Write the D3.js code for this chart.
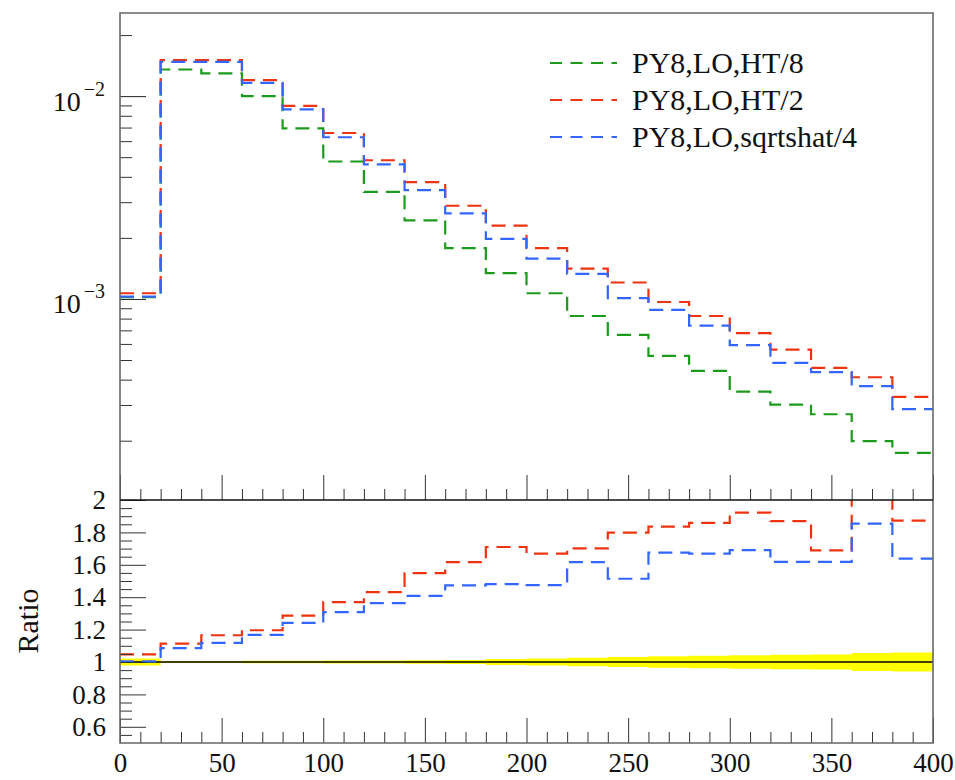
<!DOCTYPE html>
<html>
<head>
<meta charset="utf-8">
<script src="https://cdn.jsdelivr.net/npm/d3@7"></script>
<style>
  body { margin: 0; background: #fff; }
  svg { display: block; font-family: "Liberation Serif", "DejaVu Serif", serif; }
</style>
</head>
<body>
<svg width="955" height="780"></svg>
<script>
// bins of 20 GeV, lower edges
var binLow = [0, 20, 40, 60, 80, 100, 120, 140, 160, 180, 200, 220, 240, 260, 280, 300, 320, 340, 360, 380];
var binHigh = 400;

var seriesNames = ['PY8,LO,HT/8', 'PY8,LO,HT/2', 'PY8,LO,sqrtshat/4'];
var seriesColors = ['#1c9a1c', '#ee3311', '#3366ff'];

var ht8 = [1.02e-3, 0.01353, 0.01294, 0.0100, 6.93e-3, 4.76e-3, 3.37e-3, 2.44e-3, 1.78e-3, 1.34e-3,
  1.067e-3, 8.24e-4, 6.65e-4, 5.24e-4, 4.42e-4, 3.49e-4, 3.01e-4, 2.70e-4, 1.99e-4, 1.74e-4];
var ht2 = [1.067e-3, 0.01504, 0.01504, 0.01199, 8.95e-3, 6.58e-3, 4.83e-3, 3.77e-3, 2.88e-3, 2.30e-3,
  1.78e-3, 1.41e-3, 1.205e-3, 9.66e-4, 8.24e-4, 6.78e-4, 5.62e-4, 4.57e-4, 4.11e-4, 3.29e-4];
var sqrts4 = [1.026e-3, 0.01475, 0.01475, 0.01163, 8.60e-3, 6.27e-3, 4.61e-3, 3.44e-3, 2.64e-3, 1.98e-3,
  1.58e-3, 1.33e-3, 1.009e-3, 8.83e-4, 7.39e-4, 5.92e-4, 4.84e-4, 4.36e-4, 3.72e-4, 2.86e-4];

// ratios to PY8,LO,HT/8
var ratioHt2 = [1.047, 1.114, 1.165, 1.196, 1.286, 1.369, 1.431, 1.549, 1.616, 1.710,
  1.669, 1.702, 1.799, 1.836, 1.859, 1.922, 1.869, 1.689, 2.07, 1.873];
var ratioSqrts4 = [1.004, 1.086, 1.118, 1.167, 1.241, 1.308, 1.363, 1.408, 1.473, 1.481,
  1.475, 1.616, 1.514, 1.675, 1.669, 1.691, 1.618, 1.618, 1.854, 1.638];
// half width of the reference uncertainty band
var bandHalf = [0.021, 0.006, 0.006, 0.007, 0.008, 0.009, 0.010, 0.011, 0.013, 0.019,
  0.022, 0.027, 0.031, 0.035, 0.038, 0.042, 0.045, 0.047, 0.055, 0.059];

var xTicksMajor = [0, 50, 100, 150, 200, 250, 300, 350, 400];
var ratioTicksMajor = [0.6, 0.8, 1, 1.2, 1.4, 1.6, 1.8, 2];

var left = 120, right = 933;
var topY = 13, midY = 500, botY = 743;
var fontFam = '"Liberation Serif", "DejaVu Serif", serif';

var svg = d3.select('svg');

var x = d3.scaleLinear().domain([0, 400]).range([left, right]);
var yTop = d3.scaleLog().domain([1.02e-4, 0.0257]).range([midY, topY]);
var yRat = d3.scaleLinear().domain([0.5, 2]).range([botY, midY]);

var defs = svg.append('defs');
defs.append('clipPath').attr('id', 'clipTop').append('rect')
  .attr('x', left).attr('y', topY).attr('width', right - left).attr('height', midY - topY);
defs.append('clipPath').attr('id', 'clipRat').append('rect')
  .attr('x', left).attr('y', midY).attr('width', right - left).attr('height', botY - midY);

function stepPoints(vals) {
  var pts = binLow.map(function(b, i) { return [b, vals[i]]; });
  pts.push([binHigh, vals[vals.length - 1]]);
  return pts;
}

// ---------- top panel ----------
var lineTop = d3.line()
  .x(function(d) { return x(d[0]); })
  .y(function(d) { return yTop(d[1]); })
  .curve(d3.curveStepAfter);

var gTop = svg.append('g').attr('clip-path', 'url(#clipTop)');
[ht8, ht2, sqrts4].forEach(function(vals, i) {
  gTop.append('path')
    .attr('d', lineTop(stepPoints(vals)))
    .attr('fill', 'none')
    .attr('stroke', seriesColors[i])
    .attr('stroke-width', 2.2)
    .attr('stroke-dasharray', '14,8');
});

// y axis (log) major + minor
var minorLog = [];
[1e-4, 1e-3, 1e-2].forEach(function(dec) {
  for (var k = 2; k <= 9; k++) {
    var v = dec * k;
    if (v >= yTop.domain()[0] && v <= yTop.domain()[1]) minorLog.push(v);
  }
});

svg.append('g')
  .attr('transform', 'translate(' + left + ',0)')
  .call(d3.axisLeft(yTop).tickValues(minorLog).tickSizeInner(-12).tickSizeOuter(0).tickFormat(''))
  .call(function(g) { g.select('.domain').remove(); g.selectAll('line').attr('stroke', '#333'); });

var yMajor = svg.append('g')
  .attr('transform', 'translate(' + left + ',0)')
  .call(d3.axisLeft(yTop).tickValues([1e-3, 1e-2]).tickSizeInner(-26).tickSizeOuter(0).tickPadding(15))
  .call(function(g) { g.select('.domain').remove(); g.selectAll('line').attr('stroke', '#222'); });

yMajor.selectAll('text')
  .attr('font-size', 28)
  .attr('font-family', fontFam)
  .attr('fill', '#111')
  .attr('dy', '0.5em')
  .each(function(d) {
    var t = d3.select(this);
    var exp = Math.round(Math.log10(d));
    t.text(null);
    t.append('tspan').text('10');
    t.append('tspan').attr('font-size', 20).attr('dy', '-0.75em').attr('dx', '3').text('\u2212' + Math.abs(exp));
  });

// x ticks
var xMinor = d3.range(0, 401, 10).filter(function(v) { return v % 50 !== 0; });
function xTicks(yPos, withLabels) {
  svg.append('g')
    .attr('transform', 'translate(0,' + yPos + ')')
    .call(d3.axisBottom(x).tickValues(xMinor).tickSizeInner(-11).tickSizeOuter(0).tickFormat(''))
    .call(function(g) { g.select('.domain').remove(); g.selectAll('line').attr('stroke', '#333'); });
  var gm = svg.append('g')
    .attr('transform', 'translate(0,' + yPos + ')')
    .call(d3.axisBottom(x).tickValues(xTicksMajor).tickSizeInner(-25).tickSizeOuter(0).tickPadding(10))
    .call(function(g) { g.select('.domain').remove(); g.selectAll('line').attr('stroke', '#333'); });
  if (!withLabels) { gm.selectAll('text').remove(); return; }
  gm.selectAll('text')
    .attr('font-size', 27)
    .attr('font-family', fontFam)
    .attr('fill', '#111');
}
xTicks(midY, false);

// legend
var legend = svg.append('g');
seriesNames.forEach(function(name, i) {
  var ly = 63 + i * 37;
  legend.append('line')
    .attr('x1', 550).attr('x2', 617).attr('y1', ly).attr('y2', ly)
    .attr('stroke', seriesColors[i]).attr('stroke-width', 2.2)
    .attr('stroke-dasharray', '12,8.5');
  legend.append('text')
    .attr('x', 632).attr('y', ly + 10)
    .attr('font-size', 30)
    .attr('fill', '#111')
    .text(name);
});

// ---------- ratio panel ----------
var gRat = svg.append('g').attr('clip-path', 'url(#clipRat)');

var band = d3.area()
  .x(function(d) { return x(d[0]); })
  .y0(function(d) { return yRat(1 - d[1]); })
  .y1(function(d) { return yRat(1 + d[1]); })
  .curve(d3.curveStepAfter);

gRat.append('path')
  .attr('d', band(stepPoints(bandHalf)))
  .attr('fill', '#ffff00');

gRat.append('line')
  .attr('x1', x(0)).attr('x2', x(400))
  .attr('y1', yRat(1)).attr('y2', yRat(1))
  .attr('stroke', '#000').attr('stroke-width', 1.4);

var lineRat = d3.line()
  .x(function(d) { return x(d[0]); })
  .y(function(d) { return yRat(d[1]); })
  .curve(d3.curveStepAfter);

[[ratioHt2, 1], [ratioSqrts4, 2]].forEach(function(s) {
  gRat.append('path')
    .attr('d', lineRat(stepPoints(s[0])))
    .attr('fill', 'none')
    .attr('stroke', seriesColors[s[1]])
    .attr('stroke-width', 2.2)
    .attr('stroke-dasharray', '14,8');
});

var ratMinor = d3.range(0.55, 2.0, 0.05).filter(function(v) {
  return Math.abs(Math.round(v * 5) - v * 5) > 1e-6;
});
svg.append('g')
  .attr('transform', 'translate(' + left + ',0)')
  .call(d3.axisLeft(yRat).tickValues(ratMinor).tickSizeInner(-12).tickSizeOuter(0).tickFormat(''))
  .call(function(g) { g.select('.domain').remove(); g.selectAll('line').attr('stroke', '#333'); });

var rMajor = svg.append('g')
  .attr('transform', 'translate(' + left + ',0)')
  .call(d3.axisLeft(yRat).tickValues(ratioTicksMajor).tickSizeInner(-26).tickSizeOuter(0).tickPadding(14)
    .tickFormat(d3.format('~g')))
  .call(function(g) { g.select('.domain').remove(); g.selectAll('line').attr('stroke', '#333'); });
rMajor.selectAll('text')
  .attr('font-size', 27)
  .attr('font-family', fontFam)
  .attr('fill', '#111');

xTicks(botY, true);

svg.append('text')
  .attr('transform', 'translate(38,621) rotate(-90)')
  .attr('text-anchor', 'middle')
  .attr('font-size', 30)
  .attr('fill', '#111')
  .text('Ratio');

// frames
svg.append('path')
  .attr('d', 'M' + left + ',' + midY + 'V' + topY + 'H' + right + 'V' + midY)
  .attr('fill', 'none').attr('stroke', '#666').attr('stroke-width', 1.6);
svg.append('path')
  .attr('d', 'M' + left + ',' + midY + 'V' + botY + 'H' + right + 'V' + midY)
  .attr('fill', 'none').attr('stroke', '#666').attr('stroke-width', 1.6);
svg.append('line')
  .attr('x1', left).attr('x2', right).attr('y1', midY).attr('y2', midY)
  .attr('stroke', '#111').attr('stroke-width', 1.6);
</script>
</body>
</html>
